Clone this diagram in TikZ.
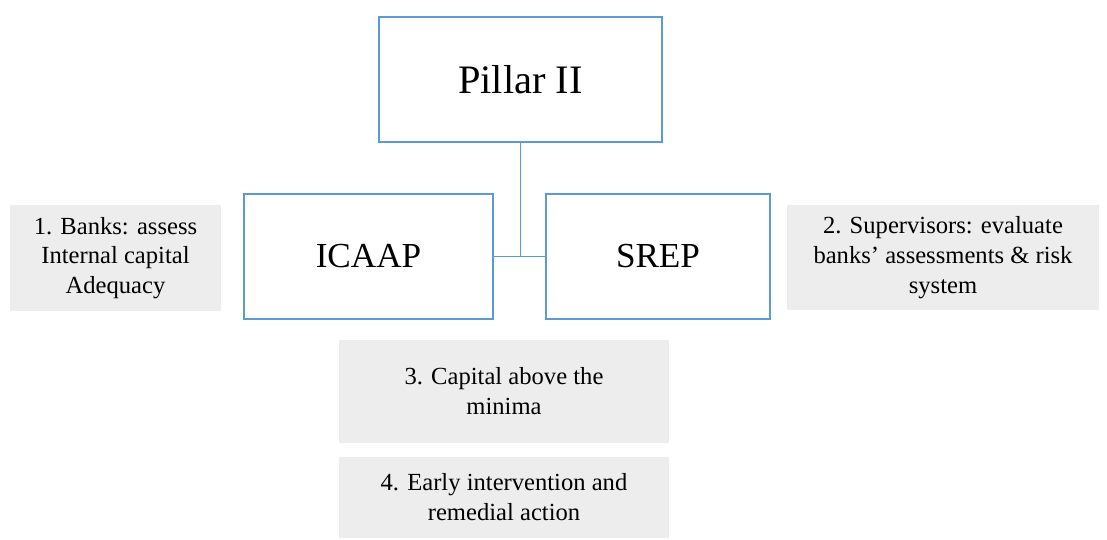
\documentclass[tikz,border=0pt]{standalone}
\usepackage{fontspec}
\setmainfont{Liberation Serif}
\definecolor{boxblue}{HTML}{5B9BD5}
\definecolor{notegray}{HTML}{EDEDED}

\begin{document}
\begin{tikzpicture}[
        pillarbox/.style={draw=boxblue,line width=1.1pt,inner sep=0pt},
        notebox/.style={fill=notegray,inner sep=0pt,align=center,font=\fontsize{14}{17}\selectfont},
        link/.style={draw=boxblue,line width=1.1pt}
    ]
        \useasboundingbox (0,0) rectangle (22.14,-10.8);

        % the pillar and its two processes
        \node[pillarbox,minimum width=5.66cm,minimum height=2.5cm,font=\fontsize{23}{27}\selectfont] (pillar) at (10.41,-1.59) {Pillar II};
        \node[pillarbox,minimum width=4.98cm,minimum height=2.5cm,font=\fontsize{20}{24}\selectfont] (icaap) at (7.37,-5.13) {ICAAP};
        \node[pillarbox,minimum width=4.48cm,minimum height=2.5cm,font=\fontsize{20}{24}\selectfont] (srep) at (13.16,-5.13) {SREP};

        \coordinate (junction) at (pillar.south |- icaap.east);
        \draw[link] (pillar.south) -- (junction);
        \draw[link] (icaap.east) -- (srep.west);

        % grey notes
        \node[notebox,minimum width=4.22cm,minimum height=2.12cm] (banks) at (2.31,-5.16) {1. Banks: assess\\Internal capital\\Adequacy};
        \node[notebox,minimum width=6.24cm,minimum height=2.1cm] (supervisors) at (18.86,-5.15) {2. Supervisors: evaluate\\banks’ assessments \& risk\\system};
        \node[notebox,minimum width=6.6cm,minimum height=2.06cm] (capital) at (10.08,-7.83) {3. Capital above the\\minima};
        \node[notebox,minimum width=6.6cm,minimum height=1.62cm] (early) at (10.08,-9.95) {4. Early intervention and\\remedial action};
    \end{tikzpicture}
\end{document}
